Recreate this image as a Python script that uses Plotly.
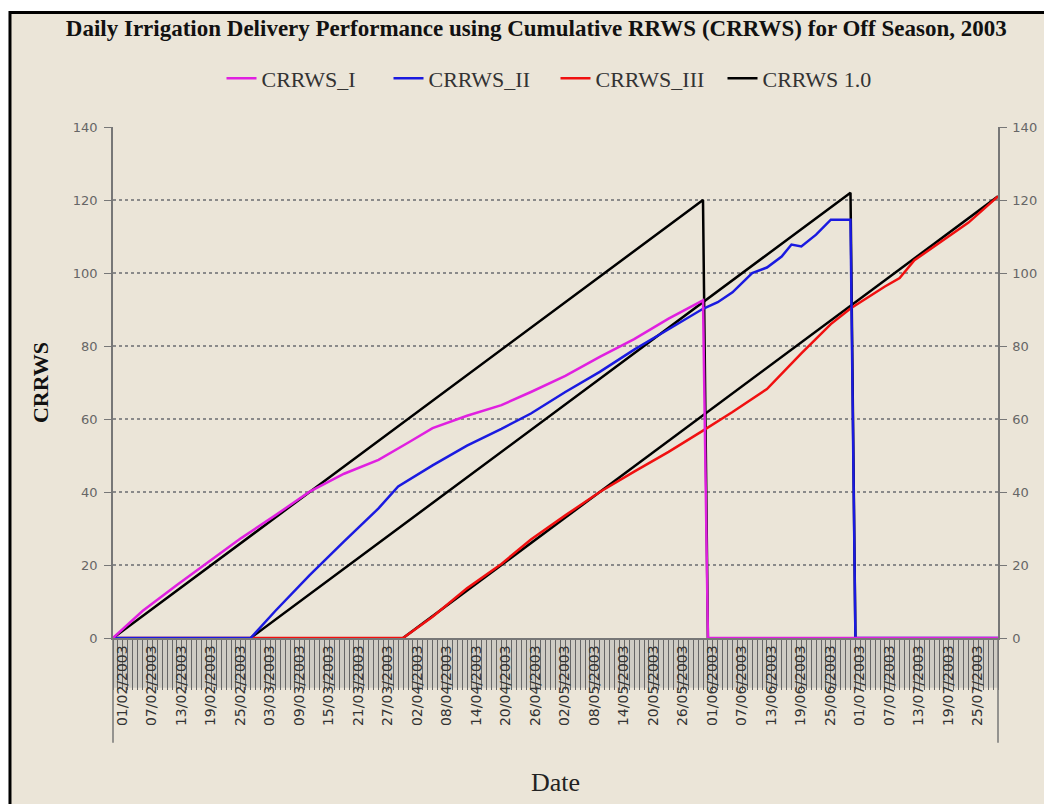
import plotly.graph_objects as go

# CRRWS_I (magenta)
dates_1 = ["2003-02-01", "2003-02-07", "2003-02-14", "2003-02-20", "2003-02-27", "2003-03-06",
           "2003-03-13", "2003-03-20", "2003-03-27", "2003-04-02", "2003-04-07", "2003-04-14",
           "2003-04-21", "2003-04-27", "2003-05-04", "2003-05-11", "2003-05-18", "2003-05-25",
           "2003-06-01", "2003-06-02", "2003-07-31"]
crrws_1 = [0, 7.4, 14.5, 20.5, 27.3, 33.6, 40.1, 45, 48.8, 53.5, 57.5, 60.9,
           63.8, 67.4, 71.8, 77, 81.9, 87.5, 92.5, 0, 0]

# CRRWS_II (blue)
dates_2 = ["2003-02-01", "2003-03-01", "2003-03-06", "2003-03-13", "2003-03-20", "2003-03-27",
           "2003-03-31", "2003-04-07", "2003-04-14", "2003-04-21", "2003-04-27", "2003-05-04",
           "2003-05-11", "2003-05-18", "2003-05-25", "2003-06-01", "2003-06-04", "2003-06-07",
           "2003-06-11", "2003-06-14", "2003-06-17", "2003-06-19", "2003-06-21", "2003-06-24",
           "2003-06-27", "2003-07-01", "2003-07-02", "2003-07-31"]
crrws_2 = [0, 0, 7.4, 17.2, 26.5, 35.5, 41.5, 47.3, 52.7, 57.3, 61.5, 67.4,
           72.9, 79, 84.6, 90.2, 92, 94.7, 100, 101.5, 104.5, 107.8, 107.3, 110.5,
           114.6, 114.6, 0, 0]

# CRRWS_III (red)
dates_3 = ["2003-02-01", "2003-04-01", "2003-04-07", "2003-04-14", "2003-04-21", "2003-04-27",
           "2003-05-04", "2003-05-11", "2003-05-18", "2003-05-25", "2003-06-01", "2003-06-07",
           "2003-06-14", "2003-06-21", "2003-06-27", "2003-07-01", "2003-07-08", "2003-07-11",
           "2003-07-14", "2003-07-18", "2003-07-25", "2003-07-31"]
crrws_3 = [0, 0, 5.8, 13.6, 20.3, 27, 33.6, 40, 45.6, 51, 56.8, 61.9,
           68.2, 78, 86, 90.3, 96.3, 98.6, 103.5, 107.3, 113.8, 121]

# CRRWS 1.0 reference lines (black)
ref_dates_a = ["2003-02-01", "2003-06-01", "2003-06-02"]
ref_vals_a = [0, 120, 0]
ref_dates_b = ["2003-03-01", "2003-07-01", "2003-07-02"]
ref_vals_b = [0, 122, 0]
ref_dates_c = ["2003-04-01", "2003-07-31"]
ref_vals_c = [0, 121]

tick_dates = ["2003-02-01", "2003-02-07", "2003-02-13", "2003-02-19", "2003-02-25", "2003-03-03",
              "2003-03-09", "2003-03-15", "2003-03-21", "2003-03-27", "2003-04-02", "2003-04-08",
              "2003-04-14", "2003-04-20", "2003-04-26", "2003-05-02", "2003-05-08", "2003-05-14",
              "2003-05-20", "2003-05-26", "2003-06-01", "2003-06-07", "2003-06-13", "2003-06-19",
              "2003-06-25", "2003-07-01", "2003-07-07", "2003-07-13", "2003-07-19", "2003-07-25"]
tick_text = [d[8:10] + "/" + d[5:7] + "/" + d[0:4] for d in tick_dates]

serif = "Liberation Serif"
sans = "DejaVu Sans"

fig = go.Figure()

# black first so the coloured lines sit on top
for xs, ys, show in [(ref_dates_a, ref_vals_a, True), (ref_dates_b, ref_vals_b, False),
                     (ref_dates_c, ref_vals_c, False)]:
    fig.add_trace(go.Scatter(x=xs, y=ys, mode="lines", name="CRRWS 1.0",
                             line=dict(color="black", width=2.5), legendgroup="ref",
                             showlegend=show, legendrank=4))

fig.add_trace(go.Scatter(x=dates_3, y=crrws_3, mode="lines", name="CRRWS_III",
                         line=dict(color="#f01010", width=2.5), legendrank=3))
fig.add_trace(go.Scatter(x=dates_2, y=crrws_2, mode="lines", name="CRRWS_II",
                         line=dict(color="#1a1ae0", width=2.5), legendrank=2))
fig.add_trace(go.Scatter(x=dates_1, y=crrws_1, mode="lines", name="CRRWS_I",
                         line=dict(color="#e020e0", width=2.5), legendrank=1))
# dummy trace so the right hand axis is drawn
fig.add_trace(go.Scatter(x=[None], y=[None], yaxis="y2", showlegend=False, hoverinfo="skip"))

# beige chart area with black frame
fig.add_shape(type="rect", xref="paper", yref="paper", x0=-0.1164, x1=1.2, y0=-0.5, y1=1.2242,
              fillcolor="#ebe5d8", line=dict(color="black", width=3), layer="below")
# grey band behind the daily tick marks
fig.add_shape(type="rect", xref="paper", yref="paper", x0=0, x1=1, y0=-0.0975, y1=0,
              fillcolor="#cfccc4", line=dict(width=0), layer="below")
# axis lines running down through the label band
for xp in [0, 1]:
    fig.add_shape(type="line", xref="paper", yref="paper", x0=xp, x1=xp, y0=0, y1=-0.205,
                  line=dict(color="#777", width=1.5))

fig.update_layout(
    width=1044, height=796,
    margin=dict(l=105, r=54, t=119, b=164),
    paper_bgcolor="white", plot_bgcolor="white",
    title=dict(text="<b>Daily Irrigation Delivery Performance using Cumulative RRWS (CRRWS) for Off Season, 2003</b>",
               font=dict(family=serif, size=23, color="#111"),
               x=0.506, xref="container", xanchor="center", y=0.975, yref="container", yanchor="middle"),
    legend=dict(orientation="h", x=0.5, xanchor="center", y=1.095, yanchor="middle",
                entrywidth=122, entrywidthmode="pixels",
                font=dict(family=serif, size=22, color="#333"), bgcolor="rgba(0,0,0,0)"),
    xaxis=dict(type="date", range=["2003-02-01", "2003-07-31"],
               tickvals=tick_dates, ticktext=tick_text, tickangle=-90,
               tickfont=dict(family=sans, size=14, color="#333"),
               ticks="", showgrid=False, showline=True, linecolor="#777", linewidth=1.5,
               ticklabelshift=9,
               minor=dict(dtick=86400000, tick0="2003-02-01", ticks="outside", ticklen=50,
                          tickcolor="#666", tickwidth=1, showgrid=False),
               title=dict(text="Date", font=dict(family=serif, size=26, color="#222"), standoff=48)),
    yaxis=dict(range=[0, 140], dtick=20, showgrid=True, gridcolor="#8a8a8a", gridwidth=2,
               griddash="dot", zeroline=False, showline=True, linecolor="#777", linewidth=1.5,
               ticks="outside", ticklen=7, tickcolor="#777", ticklabelstandoff=4,
               tickfont=dict(family=sans, size=13, color="#666"),
               title=dict(text="<b>CRRWS</b>", font=dict(family=serif, size=22, color="#111"),
                          standoff=18)),
    yaxis2=dict(range=[0, 140], dtick=20, overlaying="y", side="right", showgrid=False,
                zeroline=False, showline=True, linecolor="#777", linewidth=1.5,
                ticks="outside", ticklen=7, tickcolor="#777", ticklabelstandoff=3,
                tickfont=dict(family=sans, size=13, color="#666")),
)

fig.write_html("out.html")
